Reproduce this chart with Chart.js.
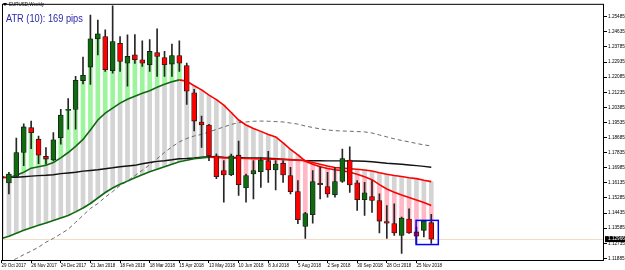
<!DOCTYPE html>
<html lang="en">
<head>
<meta charset="UTF-8">
<title>EURUSD Weekly</title>
<script src="https://cdn.jsdelivr.net/npm/chart.js"></script>
<style>
  html, body { margin: 0; padding: 0; background: #fff; }
  #wrap { width: 625px; height: 270px; }
</style>
</head>
<body>
<div id="wrap"><canvas id="chart" width="625" height="270"></canvas></div>
<script>
// weekly candles, 29 Oct 2017 .. 9 Dec 2018
const open  = [1.1648,1.1613,1.1650,1.1784,1.1924,1.1859,1.1762,1.1742,1.1868,1.2021,
               1.2027,1.2189,1.2265,1.2424,1.2437,1.2245,1.2399,1.2287,1.2334,1.2306,
               1.2278,1.2347,1.2319,1.2282,1.2330,1.2273,1.2120,1.1956,1.1939,1.1766,
               1.1682,1.1658,1.1769,1.1585,1.1663,1.1676,1.1738,1.1686,1.1723,1.1654,
               1.1564,1.1368,1.1434,1.1611,1.1592,1.1546,1.1622,1.1742,1.1613,1.1518,
               1.1536,1.1514,1.1395,1.1384,1.1318,1.1409,1.1337,1.1346,1.1389];
const high  = [1.1693,1.1672,1.1865,1.1945,1.1961,1.1877,1.1812,1.1896,1.2027,1.2088,
               1.2213,1.2321,1.2558,1.2530,1.2474,1.2610,1.2437,1.2446,1.2448,1.2413,
               1.2420,1.2480,1.2353,1.2394,1.2413,1.2287,1.2140,1.1989,1.1943,1.1777,
               1.1738,1.1775,1.1849,1.1663,1.1738,1.1756,1.1790,1.1738,1.1738,1.1700,
               1.1626,1.1448,1.1682,1.1704,1.1672,1.1700,1.1803,1.1816,1.1626,1.1616,
               1.1626,1.1551,1.1486,1.1495,1.1420,1.1467,1.1365,1.1402,1.1436];
const low   = [1.1598,1.1551,1.1644,1.1710,1.1805,1.1721,1.1719,1.1738,1.1831,1.1915,
               1.1915,1.2170,1.2167,1.2334,1.2241,1.2230,1.2241,1.2157,1.2286,1.2269,
               1.2241,1.2213,1.2213,1.2213,1.2241,1.2055,1.1905,1.1812,1.1738,1.1637,
               1.1504,1.1654,1.1542,1.1504,1.1523,1.1588,1.1616,1.1574,1.1616,1.1551,
               1.1384,1.1300,1.1387,1.1523,1.1532,1.1532,1.1616,1.1560,1.1458,1.1430,
               1.1447,1.1331,1.1300,1.1318,1.1216,1.1328,1.1272,1.1309,1.1272];
const close = [1.1640,1.1663,1.1784,1.1928,1.1896,1.1769,1.1747,1.1855,1.1995,1.2027,
               1.2191,1.2219,1.2424,1.2452,1.2250,1.2409,1.2297,1.2325,1.2306,1.2287,
               1.2353,1.2325,1.2278,1.2330,1.2287,1.2129,1.1961,1.1939,1.1766,1.1648,
               1.1658,1.1766,1.1603,1.1654,1.1682,1.1742,1.1686,1.1719,1.1658,1.1564,
               1.1406,1.1440,1.1620,1.1603,1.1551,1.1620,1.1750,1.1602,1.1518,1.1557,
               1.1514,1.1398,1.1387,1.1331,1.1415,1.1331,1.1313,1.1398,1.12966];

// moving averages
const maFast  = [1.1644,1.1642,1.1656,1.1673,1.1696,1.1704,1.1712,1.1728,1.1754,1.1784,
                 1.1819,1.1858,1.1911,1.1967,1.2006,1.2034,1.2062,1.2084,1.2101,1.2118,
                 1.2132,1.2151,1.2168,1.2182,1.2193,1.2185,1.2160,1.2137,1.2107,1.2082,
                 1.2051,1.2009,1.1967,1.1939,1.1919,1.1903,1.1886,1.1872,1.1838,1.1802,
                 1.1771,1.1735,1.1718,1.1704,1.1694,1.1687,1.1682,1.1673,1.1662,1.1648,
                 1.1631,1.1603,1.1579,1.1561,1.1545,1.1531,1.1517,1.1503,1.1486];
const maSlow  = [1.1300,1.1313,1.1329,1.1346,1.1360,1.1374,1.1387,1.1402,1.1416,1.1430,
                 1.1450,1.1472,1.1497,1.1528,1.1559,1.1584,1.1605,1.1623,1.1642,1.1659,
                 1.1676,1.1690,1.1704,1.1718,1.1732,1.1740,1.1749,1.1754,1.1757,1.1756,
                 1.1754,1.1753,1.1752,1.1750,1.1749,1.1748,1.1747,1.1746,1.1745,1.1744,
                 1.1741,1.1738,1.1728,1.1718,1.1708,1.1700,1.1696,1.1693,1.1690,1.1686,
                 1.1680,1.1670,1.1662,1.1655,1.1649,1.1642,1.1637,1.1628,1.1620];
const maLong  = [1.1644,1.1644,1.1645,1.1648,1.1651,1.1654,1.1656,1.1659,1.1665,1.1669,
                 1.1673,1.1679,1.1683,1.1687,1.1693,1.1698,1.1704,1.1708,1.1712,1.1721,
                 1.1728,1.1734,1.1738,1.1743,1.1749,1.1750,1.1753,1.1757,1.1760,1.1760,
                 1.1757,1.1756,1.1756,1.1754,1.1753,1.1753,1.1752,1.1749,1.1746,1.1743,
                 1.1741,1.1739,1.1738,1.1738,1.1737,1.1737,1.1737,1.1736,1.1736,1.1735,
                 1.1732,1.1728,1.1724,1.1721,1.1718,1.1714,1.1710,1.1706,1.1701];
const maTrend = [1.1150,1.1167,1.1187,1.1209,1.1229,1.1251,1.1279,1.1301,1.1326,1.1352,
                 1.1391,1.1430,1.1469,1.1497,1.1533,1.1564,1.1598,1.1623,1.1654,1.1684,
                 1.1715,1.1749,1.1785,1.1816,1.1844,1.1863,1.1877,1.1886,1.1900,1.1914,
                 1.1928,1.1942,1.1952,1.1956,1.1960,1.1961,1.1960,1.1958,1.1956,1.1950,
                 1.1944,1.1933,1.1925,1.1917,1.1911,1.1907,1.1905,1.1904,1.1902,1.1900,
                 1.1894,1.1883,1.1872,1.1861,1.1852,1.1844,1.1835,1.1827,1.1821];

// axis labels
const dateLabels = ['29 Oct 2017','26 Nov 2017','24 Dec 2017','21 Jan 2018','18 Feb 2018',
                    '18 Mar 2018','15 Apr 2018','13 May 2018','10 Jun 2018','8 Jul 2018',
                    '5 Aug 2018','2 Sep 2018','30 Sep 2018','28 Oct 2018','25 Nov 2018'];
const dateTicks = [0,4,8,12,16,20,24,28,32,36,40,44,48,52,56];
const priceTicks = [1.25485,1.24635,1.23785,1.22935,1.22085,1.21235,1.20385,1.19535,1.18685,
                    1.17835,1.16985,1.16135,1.15285,1.14435,1.13585,1.12735,1.11885];
const lastPrice = 1.12966;
const boxBars = [55.95, 58.95];
const boxPrices = [1.1402, 1.1266];

const GREEN = '#106b10', RED = '#ff0000';
const FONT = "'Liberation Sans', Arial, sans-serif";

const pts = arr => arr.map((v, i) => ({x: i, y: v}));

// gray fill between the two averages, colour from the nearer average to the close
const spread = maFast.map((f, i) => ({x: i, y: [Math.min(f, maSlow[i]), Math.max(f, maSlow[i])]}));
const trend = [], trendColors = [];
close.forEach((c, i) => {
  const hi = Math.max(maFast[i], maSlow[i]);
  const lo = Math.min(maFast[i], maSlow[i]);
  if (c > hi) { trend.push({x: i, y: [hi, c]}); trendColors.push('#9cf59c'); }
  else if (c < lo) { trend.push({x: i, y: [c, lo]}); trendColors.push('#ffb9c4'); }
});

const slopeColor = ctx => ctx.p1.parsed.y >= ctx.p0.parsed.y ? GREEN : RED;

const overlay = {
  id: 'overlay',
  beforeDatasetsDraw(chart) {
    const {ctx, chartArea: a, scales: {y}} = chart;
    const py = Math.round(y.getPixelForValue(lastPrice)) + 0.5;
    ctx.save();
    ctx.strokeStyle = '#f2dcc6';
    ctx.lineWidth = 1;
    ctx.beginPath();
    ctx.moveTo(a.left, py);
    ctx.lineTo(a.right, py);
    ctx.stroke();
    ctx.restore();
  },
  afterDraw(chart) {
    const {ctx, chartArea: a, scales: {x, y}} = chart;
    ctx.save();
    // frame
    ctx.strokeStyle = '#000';
    ctx.lineWidth = 1;
    ctx.strokeRect(a.left + 0.5, a.top + 0.5, a.right - a.left - 1, a.bottom - a.top);

    // highlight box on the last bars
    const bx0 = x.getPixelForValue(boxBars[0]), bx1 = x.getPixelForValue(boxBars[1]);
    const by0 = y.getPixelForValue(boxPrices[0]), by1 = y.getPixelForValue(boxPrices[1]);
    ctx.strokeStyle = '#0000ff';
    ctx.lineWidth = 1.5;
    ctx.strokeRect(bx0, by0, bx1 - bx0, by1 - by0);

    // current price label
    const py = y.getPixelForValue(lastPrice);
    ctx.fillStyle = '#000';
    ctx.fillRect(a.right + 1, py - 3, 20, 6);
    ctx.fillStyle = '#fff';
    ctx.font = '4.7px ' + FONT;
    ctx.textBaseline = 'middle';
    ctx.fillText(lastPrice.toFixed(5), a.right + 4, py);

    // window title
    ctx.fillStyle = '#000';
    ctx.beginPath();
    ctx.moveTo(3, 3); ctx.lineTo(7, 3); ctx.lineTo(5, 6); ctx.closePath();
    ctx.fill();
    ctx.font = '4.5px ' + FONT;
    ctx.fillText('EURUSD,Weekly', 9, 5);

    // indicator text
    ctx.translate(6, 21.5);
    ctx.scale(0.84, 1);
    ctx.fillStyle = '#2828a8';
    ctx.font = '11px ' + FONT;
    ctx.textBaseline = 'alphabetic';
    ctx.fillText('ATR (10): 169 pips', 0, 0);
    ctx.restore();
  }
};

new Chart(document.getElementById('chart'), {
  type: 'bar',
  data: {
    datasets: [
      {
        label: 'Body',
        data: open.map((o, i) => ({x: i, y: [o, close[i]]})),
        backgroundColor: close.map((c, i) => c >= open[i] ? GREEN : RED),
        borderColor: '#1a1a1a',
        borderWidth: 0.8,
        borderSkipped: false,
        barThickness: 5,
        minBarLength: 1,
        grouped: false,
        order: 0
      },
      {
        label: 'Wick',
        data: high.map((h, i) => ({x: i, y: [low[i], h]})),
        backgroundColor: '#262626',
        barThickness: 1,
        grouped: false,
        order: 1
      },
      {
        type: 'line', label: 'Fast MA', data: pts(maFast),
        borderWidth: 1.6, pointRadius: 0, tension: 0,
        borderColor: GREEN, segment: {borderColor: slopeColor}, order: 2
      },
      {
        type: 'line', label: 'Slow MA', data: pts(maSlow),
        borderWidth: 1.6, pointRadius: 0, tension: 0,
        borderColor: GREEN, segment: {borderColor: slopeColor}, order: 3
      },
      {
        type: 'line', label: 'Long MA', data: pts(maLong),
        borderWidth: 1.4, pointRadius: 0, tension: 0,
        borderColor: '#111', order: 4
      },
      {
        type: 'line', label: 'Trend MA', data: pts(maTrend),
        borderWidth: 1, pointRadius: 0, tension: 0,
        borderColor: '#6a6a6a', borderDash: [4, 3], order: 5
      },
      {
        label: 'Spread',
        data: spread,
        backgroundColor: '#d4d4d4',
        barThickness: 4,
        grouped: false,
        order: 10
      },
      {
        label: 'Trend',
        data: trend,
        backgroundColor: trendColors,
        barThickness: 4,
        grouped: false,
        order: 11
      }
    ]
  },
  options: {
    responsive: false,
    animation: false,
    devicePixelRatio: 1,
    layout: {padding: {left: 2, top: 2, right: 0, bottom: 0}},
    plugins: {legend: {display: false}, tooltip: {enabled: false}},
    scales: {
      x: {
        type: 'linear',
        min: 0.0675,
        max: 81.31,
        offset: false,
        grid: {drawOnChartArea: false, offset: false, tickLength: 3, color: '#000'},
        border: {display: false},
        ticks: {
          align: 'start', maxRotation: 0, autoSkip: false, padding: 0,
          color: '#000', font: {size: 4.5, family: FONT},
          callback: (v, i) => dateLabels[i]
        },
        afterBuildTicks: s => { s.ticks = dateTicks.map(v => ({value: v})); },
        afterFit: s => { s.height = 10; }
      },
      y: {
        type: 'linear',
        position: 'right',
        min: 1.1179,
        max: 1.2621,
        beginAtZero: false,
        grid: {drawOnChartArea: false, tickLength: 3, color: '#000'},
        border: {display: false},
        ticks: {
          padding: 1, color: '#000', font: {size: 4.7, family: FONT},
          callback: v => v.toFixed(5)
        },
        afterBuildTicks: s => { s.ticks = priceTicks.map(v => ({value: v})); },
        afterFit: s => { s.width = 21; }
      }
    }
  },
  plugins: [overlay]
});
</script>
</body>
</html>
